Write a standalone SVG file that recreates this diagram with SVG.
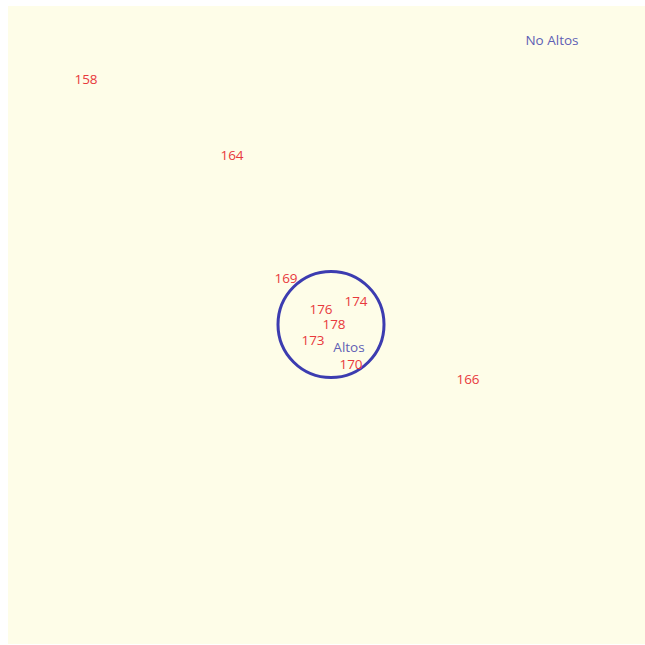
<svg xmlns="http://www.w3.org/2000/svg" width="645" height="645" viewBox="0 0 645 645">
<style>
.bg{fill:#FEFDE8}
.n{font-family:"Open Sans","DejaVu Sans",sans-serif;font-size:13.5px;fill:#E8393C;text-anchor:middle}
.l{font-family:"Open Sans","DejaVu Sans",sans-serif;font-size:13.5px;fill:#5F5FB5;text-anchor:middle}
.c{fill:none;stroke:#3C3CB0;stroke-width:3}
</style>
<rect class="bg" x="8" y="6" width="637" height="638"/>
<g id="set-altos">
<circle class="c" cx="331" cy="324.5" r="53"/>
<text class="l" x="349" y="352">Altos</text>
</g>
<g id="label-no-altos"><text class="l" x="552" y="45">No Altos</text></g>
<g id="n158"><text class="n" x="86" y="84">158</text></g>
<g id="n164"><text class="n" x="232" y="160">164</text></g>
<g id="n169"><text class="n" x="286" y="283">169</text></g>
<g id="n176"><text class="n" x="321" y="314">176</text></g>
<g id="n174"><text class="n" x="356" y="306">174</text></g>
<g id="n178"><text class="n" x="334" y="329">178</text></g>
<g id="n173"><text class="n" x="313" y="345">173</text></g>
<g id="n170"><text class="n" x="351" y="369">170</text></g>
<g id="n166"><text class="n" x="468" y="384">166</text></g>
<g id="connectors"></g>
</svg>
